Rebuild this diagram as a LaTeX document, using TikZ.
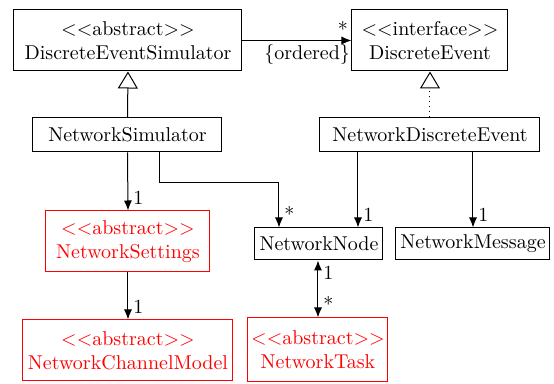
\documentclass[tikz,border=0pt]{standalone}
\usetikzlibrary{arrows.meta}
\begin{document}
\begin{tikzpicture}[x=0.5pt,y=-0.5pt,
  box/.style={draw, line width=0.5pt, inner sep=0pt, align=center, font=\normalsize},
  redbox/.style={box, draw=red, text=red},
  assoc/.style={line width=0.5pt, -{Latex[length=5pt,width=4pt]}},
  gen/.style={line width=0.5pt, -{Triangle[open,length=8.5pt,width=10pt]}},
  lbl/.style={inner sep=2.5pt, font=\normalsize}]
\useasboundingbox (0,0) rectangle (554,384);
\node[box, minimum width=114pt, minimum height=30.5pt] (des) at (128,40.5) {$<<$abstract$>>$\\DiscreteEventSimulator};
\node[box, minimum width=78pt, minimum height=30.5pt] (de) at (430,40.5) {$<<$interface$>>$\\DiscreteEvent};
\node[box, minimum width=94.5pt, minimum height=17pt] (ns) at (127.5,135) {NetworkSimulator};
\node[box, minimum width=110pt, minimum height=17pt] (nde) at (430,135) {NetworkDiscreteEvent};
\node[redbox, minimum width=82pt, minimum height=30.5pt] (sett) at (128,241.5) {$<<$abstract$>>$\\NetworkSettings};
\node[box, minimum width=64pt, minimum height=16pt] (nn) at (319,244) {NetworkNode};
\node[box, minimum width=77pt, minimum height=16pt] (nm) at (473,244) {NetworkMessage};
\node[redbox, minimum width=105pt, minimum height=30.5pt] (ncm) at (128,350.5) {$<<$abstract$>>$\\NetworkChannelModel};
\node[redbox, minimum width=70pt, minimum height=32pt] (nt) at (318,350) {$<<$abstract$>>$\\NetworkTask};

\draw[assoc] (des.east) -- node[pos=1, above left, lbl, inner sep=1.5pt]{*} node[pos=1, below left, lbl, inner sep=2pt, xshift=1.5pt]{\{ordered\}} (de.west);
\draw[gen] (ns.north) -- (des.south);
\draw[gen, dotted] (nde.north) -- (de.south);
\draw[assoc] (ns.south) -- node[pos=1, above right, lbl]{1} (sett.north);
\draw[assoc] ([xshift=16pt]ns.south) -- ++(0,30) -| node[pos=1, above right, lbl]{*} ([xshift=-20pt]nn.north);
\draw[assoc] ([xshift=-36pt]nde.south) -- node[pos=1, above right, lbl]{1} ([xshift=19.5pt]nn.north);
\draw[assoc] (nde.south -| nm.north) -- node[pos=1, above right, lbl]{1} (nm.north);
\draw[assoc] (sett.south) -- node[pos=1, above right, lbl]{1} (ncm.north);
\draw[line width=0.5pt, {Latex[length=5pt,width=4pt]}-{Latex[length=5pt,width=4pt]}] (nn.south -| nt.north) -- node[pos=0, below right, lbl]{1} node[pos=1, above right, lbl]{*} (nt.north);
\end{tikzpicture}
\end{document}
